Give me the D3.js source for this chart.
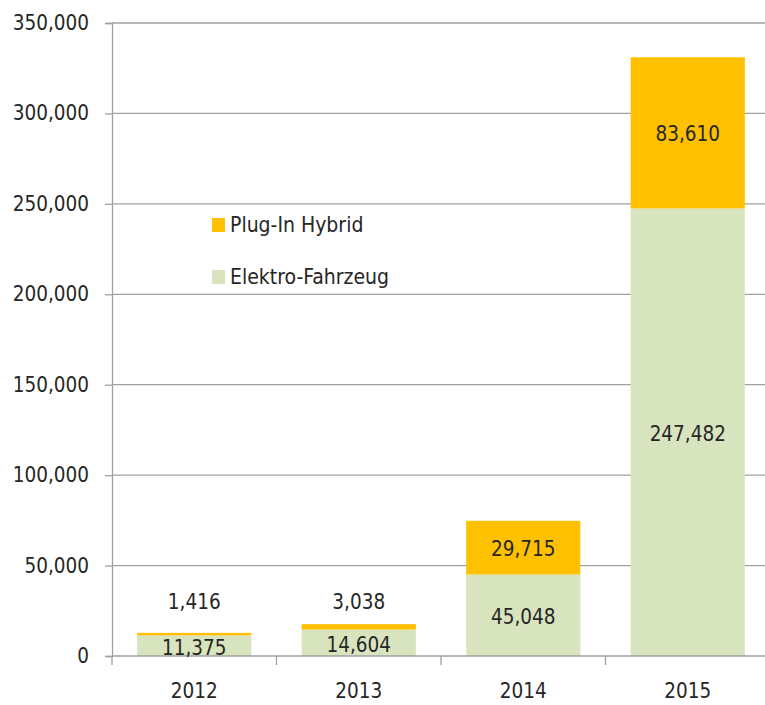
<!DOCTYPE html>
<html><head><meta charset="utf-8">
<script src="https://cdn.jsdelivr.net/npm/d3@7/dist/d3.min.js"></script>
<style>
html,body{margin:0;padding:0;background:#fff;}
svg text{font-family:"DejaVu Sans Condensed","DejaVu Sans",sans-serif;font-stretch:condensed;fill:#262626;}
</style></head>
<body>
<svg id="c" width="765" height="705"></svg>
<script>
const years = ["2012","2013","2014","2015"];
const elektro = [11375, 14604, 45048, 247482];
const plugin = [1416, 3038, 29715, 83610];
const yTicks = [0,50000,100000,150000,200000,250000,300000,350000];
const seriesNames = ["Plug-In Hybrid","Elektro-Fahrzeug"];
const colors = {elektro:"#D7E4BD", plugin:"#FFC000"};

const FS = 20.5;
const svg = d3.select("#c");
const x0 = 112, x1 = 770, yTop = 23, yBot = 656;
const x = d3.scaleBand().domain(years).range([x0, x1]).paddingInner(0.306).paddingOuter(0.153);
const y = d3.scaleLinear().domain([0,350000]).range([yBot, yTop]);
const fmt = d3.format(",");
const grid = "#A0A0A0";

// gridlines
svg.append("g").selectAll("line").data(yTicks.slice(1)).join("line")
  .attr("x1", x0).attr("x2", 765).attr("y1", d=>y(d)).attr("y2", d=>y(d))
  .attr("stroke", grid).attr("stroke-width", 1.3);

// y axis
const ya = svg.append("g").attr("transform",`translate(${x0},0)`)
  .call(d3.axisLeft(y).tickValues(yTicks).tickFormat(fmt).tickSize(7).tickPadding(16));
ya.select(".domain").attr("stroke", grid).attr("stroke-width",1.3);
ya.selectAll(".tick line").attr("stroke", grid).attr("stroke-width",1.3);
ya.selectAll("text").attr("font-size", FS).attr("font-family", null).attr("fill", "#262626");

// bars
const data = years.map((yr,i)=>({yr, e:elektro[i], p:plugin[i]}));
svg.append("g").selectAll("rect").data(data).join("rect")
  .attr("x", d=>x(d.yr)).attr("width", x.bandwidth())
  .attr("y", d=>y(d.e)).attr("height", d=>y(0)-y(d.e)).attr("fill", colors.elektro);
svg.append("g").selectAll("rect").data(data).join("rect")
  .attr("x", d=>x(d.yr)).attr("width", x.bandwidth())
  .attr("y", d=>y(d.e+d.p)).attr("height", d=>y(d.e)-y(d.e+d.p)).attr("fill", colors.plugin);

// x axis
const xa = svg.append("g").attr("transform",`translate(0,${yBot})`)
  .call(d3.axisBottom(x).tickSize(0).tickPadding(27));
xa.select(".domain").remove();
svg.append("line").attr("x1",x0).attr("x2",765).attr("y1",yBot).attr("y2",yBot).attr("stroke",grid).attr("stroke-width",1.3);
const step = x.step();
svg.append("g").selectAll("line").data(d3.range(0,4)).join("line")
  .attr("x1", d=>x0+d*step).attr("x2", d=>x0+d*step).attr("y1", yBot).attr("y2", yBot+9)
  .attr("stroke", grid).attr("stroke-width",1.3);
xa.selectAll("text").attr("font-size", FS).attr("font-family", null).attr("fill","#262626").attr("dy","0.71em");

// data labels
const cx = d=>x(d.yr)+x.bandwidth()/2;
svg.append("g").selectAll("text").data(data).join("text")
  .attr("x", cx).attr("y", d=>(y(0)+y(d.e))/2 + 2).attr("dy","0.35em")
  .attr("text-anchor","middle").attr("font-size",FS).text(d=>fmt(d.e));
svg.append("g").selectAll("text").data(data).join("text")
  .attr("x", cx)
  .attr("y", d=> d.p < 10000 ? y(30000) : (y(d.e)+y(d.e+d.p))/2 + 1).attr("dy","0.35em")
  .attr("text-anchor","middle").attr("font-size",FS).text(d=>fmt(d.p));

// legend
const lg = svg.append("g");
const legendItems = [{n:seriesNames[0], c:colors.plugin, y:225},{n:seriesNames[1], c:colors.elektro, y:277}];
legendItems.forEach(it=>{
  lg.append("rect").attr("x",212).attr("y",it.y-7).attr("width",13).attr("height",14).attr("fill",it.c);
  lg.append("text").attr("x",230).attr("y",it.y).attr("dy","0.35em").attr("font-size",21).text(it.n);
});
</script>
</body></html>
